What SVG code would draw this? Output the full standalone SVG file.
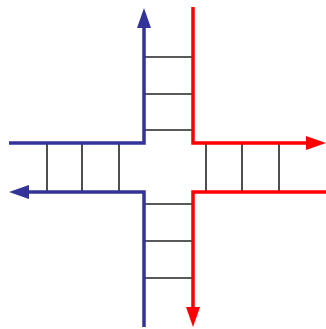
<svg xmlns="http://www.w3.org/2000/svg" width="326" height="329" viewBox="0 0 326 329">
<style>
.blue{fill:none;stroke:#333399;stroke-width:3.5;stroke-linejoin:miter}
.red{fill:none;stroke:#ff0000;stroke-width:3.5;stroke-linejoin:miter}
.rung{stroke:#222;stroke-width:1.6}
</style>
<defs>
<marker id="ab" markerUnits="userSpaceOnUse" markerWidth="20" markerHeight="14" viewBox="0 0 20 14" refX="0" refY="7" orient="auto"><path d="M0,0 L20,7 L0,14 z" fill="#333399"/></marker>
<marker id="ar" markerUnits="userSpaceOnUse" markerWidth="20" markerHeight="14" viewBox="0 0 20 14" refX="0" refY="7" orient="auto"><path d="M0,0 L20,7 L0,14 z" fill="#ff0000"/></marker>
</defs>
<rect width="326" height="329" fill="#fff"/>
<g id="rungs">
<line class="rung" x1="144" y1="57" x2="193" y2="57"/>
<line class="rung" x1="144" y1="94" x2="193" y2="94"/>
<line class="rung" x1="144" y1="130" x2="193" y2="130"/>
<line class="rung" x1="47" y1="143" x2="47" y2="192"/>
<line class="rung" x1="82" y1="143" x2="82" y2="192"/>
<line class="rung" x1="119" y1="143" x2="119" y2="192"/>
<line class="rung" x1="206" y1="143" x2="206" y2="192"/>
<line class="rung" x1="242" y1="143" x2="242" y2="192"/>
<line class="rung" x1="279" y1="143" x2="279" y2="192"/>
<line class="rung" x1="144" y1="204" x2="193" y2="204"/>
<line class="rung" x1="144" y1="241" x2="193" y2="241"/>
<line class="rung" x1="144" y1="278" x2="193" y2="278"/>
</g>
<g id="connectors">
<path class="blue" d="M9,143 H144 V28" marker-end="url(#ab)"/>
<path class="blue" d="M144,327 V192 H29" marker-end="url(#ab)"/>
<path class="red" d="M193,7 V143 H306" marker-end="url(#ar)"/>
<path class="red" d="M326,192 H193 V307" marker-end="url(#ar)"/>
</g>
</svg>
